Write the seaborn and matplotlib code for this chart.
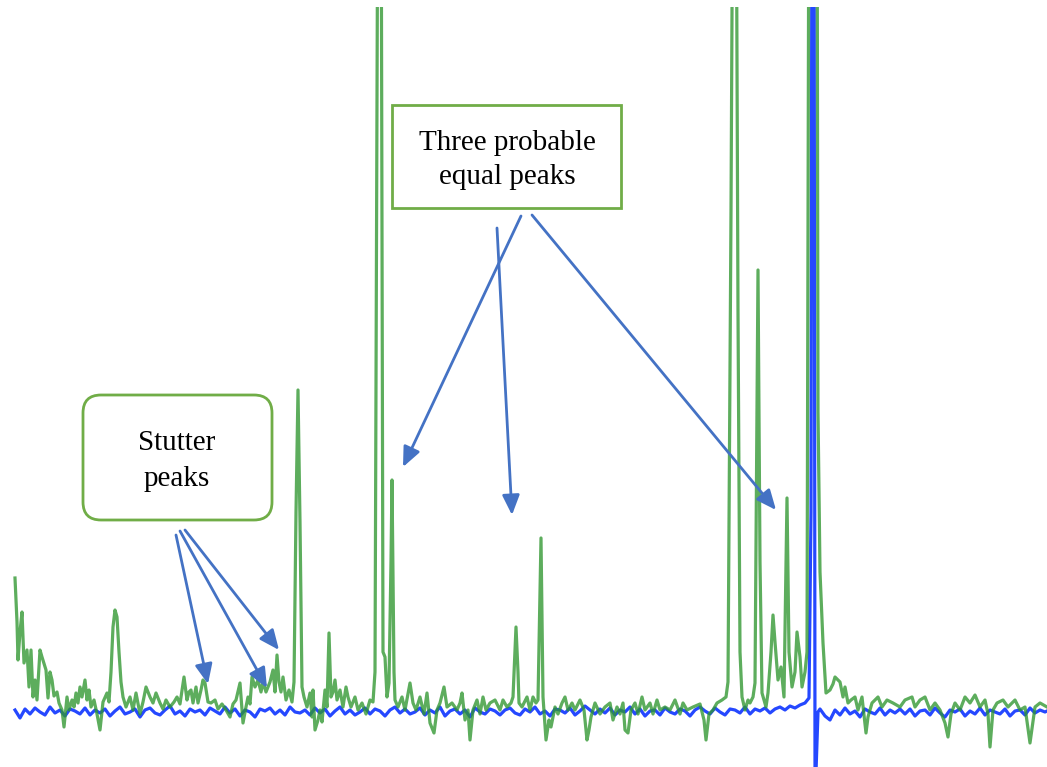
import numpy as np
import pandas as pd
import matplotlib
matplotlib.use("Agg")
import matplotlib.pyplot as plt
import seaborn as sns
from matplotlib.patches import Rectangle, FancyBboxPatch

# ---- data (signal height above baseline) ----
green_x = [15, 17, 18, 20, 22, 24, 27, 29, 31, 33, 35, 37, 40, 42, 46, 48, 50, 52, 54, 57,
           59, 62, 64, 67, 69, 72, 74, 76, 78, 80, 82, 85, 87, 89, 91, 94, 97, 100, 103, 107,
           109, 111, 113, 115, 117, 119, 121, 123, 126, 130, 133, 136, 140, 143, 146, 150, 153, 156, 160, 163,
           166, 170, 174, 177, 180, 184, 187, 189, 191, 193, 196, 198, 201, 203, 205, 208, 211, 215, 218, 222,
           226, 230, 233, 236, 240, 243, 246, 248, 250, 252, 255, 258, 261, 263, 266, 270, 273, 275, 277, 279,
           281, 283, 286, 289, 292, 294, 296, 298, 300, 302, 304, 307, 310, 312, 313, 315, 318, 320, 322, 325,
           327, 329, 331, 333, 335, 337, 340, 343, 346, 348, 351, 355, 358, 362, 366, 370, 373, 375, 378, 379,
           381, 383, 385, 387, 389, 391, 392, 394, 395, 398, 402, 405, 410, 413, 416, 420, 424, 427, 430, 434,
           437, 440, 444, 447, 452, 457, 460, 462, 465, 468, 470, 473, 477, 480, 483, 486, 490, 495, 500, 503,
           507, 511, 513, 516, 518, 519, 522, 527, 530, 533, 536, 538, 541, 543, 546, 549, 551, 555, 558, 562,
           565, 568, 572, 575, 580, 584, 587, 589, 591, 595, 600, 605, 610, 613, 617, 620, 623, 625, 628, 631,
           635, 638, 642, 645, 650, 653, 657, 660, 665, 670, 675, 680, 683, 687, 693, 700, 704, 706, 709, 713,
           717, 722, 726, 728, 731, 733, 736, 738, 740, 742, 745, 748, 750, 753, 755, 758, 760, 762, 766, 768,
           771, 773, 775, 778, 781, 784, 787, 789, 792, 795, 797, 800, 802, 805, 807, 809, 811, 813, 815, 817,
           818, 820, 823, 826, 830, 833, 835, 838, 840, 843, 845, 848, 851, 855, 858, 862, 866, 868, 872, 878,
           882, 887, 893, 900, 905, 912, 915, 920, 925, 930, 935, 940, 945, 948, 951, 955, 960, 965, 970, 975,
           980, 985, 988, 990, 993, 997, 1003, 1008, 1015, 1020, 1025, 1030, 1035, 1040, 1047]
green_y = [134, 90, 52, 80, 100, 49, 62, 25, 62, 15, 32, 12, 62, 55, 42, 14, 40, 32, 16, 20,
           9, 2, -15, 15, 2, 12, 5, 19, 9, 25, 15, 32, 12, 22, 5, 12, -2, -18, 10, 19,
           10, 40, 85, 102, 95, 60, 30, 15, 5, 15, 2, 19, -2, 10, 25, 15, 9, 19, 9, 3,
           12, 5, 10, 15, 8, 35, 12, 20, 22, 9, 25, 9, 22, 32, 29, 10, 9, 12, 3, 8,
           2, -5, 8, 12, 29, -11, 5, 15, 8, 35, 25, 32, 20, 30, 20, 30, 42, 20, 57, 30,
           20, 35, 12, 22, 10, 30, 200, 322, 190, 25, 15, 5, 19, -5, 22, -18, -8, 2, -10, 22,
           5, 79, 15, 20, 32, 12, 22, 5, 25, 15, 5, 15, 2, 9, -2, 12, 10, 40, 900, 900,
           900, 60, 55, 15, 29, 150, 232, 40, 12, 5, 15, 2, 29, 9, 2, 15, -2, 19, -11, -21,
           2, 9, 25, 5, 9, 2, 9, 19, -8, 2, -28, 2, 12, -2, 15, 2, 9, 12, 2, 12,
           5, 9, 15, 85, 40, 9, 5, 15, 2, 15, 9, 12, 174, 15, -28, -8, -15, 5, -2, 9,
           15, 2, 9, 2, 12, 2, -28, -18, -5, 9, -2, 5, 9, -8, 5, -2, 9, -18, -21, 2,
           9, -2, 15, 2, 9, -2, 12, 2, 5, 2, 12, -2, 9, 2, 5, 8, -8, -28, -2, 2,
           9, 12, 15, 30, 500, 900, 900, 400, 60, 15, 2, 12, 9, 15, 29, 442, 150, 19, 5, 19,
           60, 97, 70, 32, 45, 15, 214, 60, 25, 40, 80, 55, 25, 40, 60, 900, 900, 900, 900, 900,
           300, 140, 69, 19, 22, 28, 35, 32, 30, 15, 25, 9, 12, 15, 2, 15, -21, -5, 9, 15,
           5, 12, 9, 5, 12, 15, 5, 12, 15, 2, 9, 2, -11, -25, -2, 9, 2, 15, 9, 17,
           5, 12, -2, -35, 2, 9, 12, 5, 12, 2, 5, -31, 5, 9, 5]

blue_x = (list(range(15, 806, 5)) + [809, 811, 812, 814, 815, 816, 818]
          + list(range(820, 1046, 5)) + [1047])
blue_y = [2, -6, 3, -2, 4, 0, -3, 5, -1, 2, -4, 3, 1, -2, 4, -3, 2, -1,
          3, -4, 1, 5, -2, 0, 3, -5, 2, 4, -1, -3, 2, 6, -2, 1, -4, 3, 0, 2,
          -3, 4, 1, -2, 5, -1, 3, -4, 2, 0, -5, 3, 1, 4, -2, 2, -3, 5, 0, -1,
          2, -3, 4, -1, 3, -4, 1, 5, -2, 2, -3, 0, 4, -2, 3, 1, -4, 2, 5, -1,
          3, -2, 0, 4, -3, 2, -1, 5, -4, 1, 3, -2, 2, -5, 4, 0, -2, 3, 1, -3,
          2, 4, -1, -3, 3, 0, 5, -2, 1, -4, 3, 2, -1, 4, -3, 1, 6, 2, -2, 3,
          -1, 4, -3, 2, 0, 5, -2, 3, -4, 1, 2, -3, 4, 0, -2, 3, 1, -4, 2, 5,
          1, -2, 4, 0, -3, 3, 2, -1, 5, -2, 3, 1, 4, -1, 3, 5, 2, 6, 4, 7, 9,
          14, 200, 900, 900, -60, -60, 0,
          3, -4, -8, 2, -3, 4, -2, 1, -5, 3, 0, -2, 4, -3, 2, -1, 3,
          -2, 3, -4, 1, 2, -3, 4, -1, -5, 2, 0, 3, -4, 1, -2, 4, -3, 2, 0, -2,
          3, -4, 1, 2, -3, 4, -1, 2, 0,
          1]

box_texts = ["Three probable\nequal peaks", "Stutter\npeaks"]

green_df = pd.DataFrame({"x": green_x, "y": green_y})
blue_df = pd.DataFrame({"x": blue_x, "y": blue_y})

W, H = 1047, 767
fig = plt.figure(figsize=(W / 100, H / 100), dpi=100)
fig.patch.set_facecolor("white")

ax = fig.add_axes([0, 0, 1, 760 / H])
sns.lineplot(data=blue_df, x="x", y="y", ax=ax, color="#2548ff", lw=2.3,
             estimator=None, sort=False, zorder=2)
sns.lineplot(data=green_df, x="x", y="y", ax=ax, color="#2f962f", lw=2.3,
             alpha=0.78, estimator=None, sort=False, zorder=3)
ax.set_xlim(0, W)
ax.set_ylim(-55, 705)
ax.axis("off")

# overlay in pixel coordinates for annotations
ov = fig.add_axes([0, 0, 1, 1])
ov.set_xlim(0, W)
ov.set_ylim(H, 0)
ov.axis("off")
ov.patch.set_alpha(0)

box_col = "#70ad47"
arrow_col = "#4472c4"
ov.add_patch(Rectangle((392, 105), 229, 103, fill=False, ec=box_col, lw=2))
ov.add_patch(FancyBboxPatch((83, 395), 189, 125, boxstyle="round,pad=0,rounding_size=18",
                            fill=False, ec=box_col, lw=2))
font = dict(family=["Liberation Serif", "DejaVu Serif"], fontsize=21, color="black")
ov.text(507, 160, box_texts[0], ha="center", va="center", linespacing=1.45, **font)
ov.text(177, 461, box_texts[1], ha="center", va="center", linespacing=1.45, **font)

arrows = [((521, 216), (403, 467)), ((497, 228), (512, 515)), ((532, 215), (776, 510)),
          ((176, 535), (208, 684)), ((180, 531), (267, 688)), ((185, 530), (279, 650))]
for (x0, y0), (x1, y1) in arrows:
    ov.annotate("", xy=(x1, y1), xytext=(x0, y0),
                arrowprops=dict(arrowstyle="-|>,head_length=0.8,head_width=0.35",
                                mutation_scale=15, color=arrow_col, lw=2,
                                shrinkA=0, shrinkB=0))

fig.savefig("out.png", dpi=100)
